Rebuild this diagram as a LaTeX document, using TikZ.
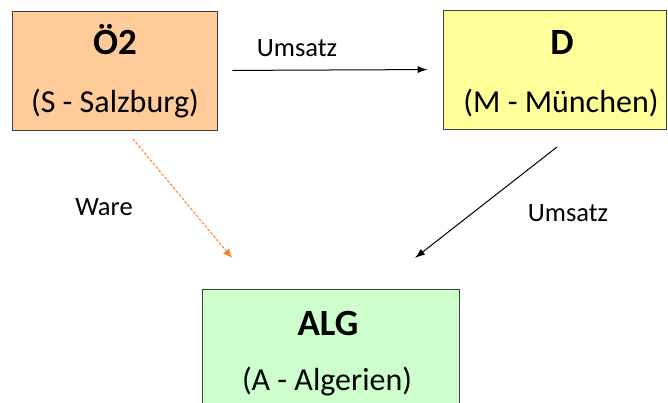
\documentclass[tikz,border=0pt]{standalone}
\usepackage{fontspec}
\setmainfont{Carlito}
\usepackage{tikz}
\usetikzlibrary{arrows.meta}
\definecolor{peach}{HTML}{FFCC99}
\definecolor{lightyellow}{HTML}{FFFF99}
\definecolor{lightgreen}{HTML}{CCFFCC}
\definecolor{rim}{HTML}{404040}
\definecolor{waredash}{HTML}{FF7F27}
\tikzset{
land/.style={rectangle, draw=rim, line width=0.9pt, inner sep=0pt},
kurz/.style={anchor=base, inner sep=0pt, font=\fontsize{37}{44}\selectfont\bfseries},
ort/.style={anchor=base, inner sep=0pt, font=\fontsize{32}{38}\selectfont},
fluss/.style={anchor=base, inner sep=0pt, font=\fontsize{26.5}{32}\selectfont}
}

\begin{document}
\begin{tikzpicture}[x=1pt, y=-1pt]
\useasboundingbox (0,0) rectangle (668,403);
\node [land, fill=peach, minimum width=205pt, minimum height=119pt] (OE) at (114.5,70.5) {};
\node [land, fill=lightyellow, minimum width=223pt, minimum height=119pt] (D) at (554.5,69.5) {};
\node [land, fill=lightgreen, minimum width=257pt, minimum height=140pt] (ALG) at (330.5,359) {};

\node [kurz] (OEkurz) at (115,55) {Ö2};
\node [ort] (OEort) at (115,113) {(S - Salzburg)};
\node [kurz] (Dkurz) at (562,55) {D};
\node [ort] (Dort) at (561,113) {(M - München)};
\node [kurz] (ALGkurz) at (328,335) {ALG};
\node [ort] (ALGort) at (327,390) {(A - Algerien)};

\coordinate (wareA) at (133,139);
\coordinate (wareB) at (232,258);
\coordinate (umsA) at (557,147);
\coordinate (umsB) at (415,258);

\draw [-{Latex[length=10pt,width=7pt]}, line width=1pt, shorten <=15pt, shorten >=15pt] (OE.east) -- (D.west);
\draw [-{Latex[length=10pt,width=7pt]}, line width=1pt] (umsA) -- (umsB);
\draw [-{Latex[length=9pt,width=8pt]}, draw=waredash, fill=waredash, line width=1pt, dash pattern=on 2.5pt off 2pt] (wareA) -- (wareB);

\node [fluss] (umsatz1) at (297,57) {Umsatz};
\node [fluss] (umsatz2) at (568,222) {Umsatz};
\node [fluss] (ware) at (104,215) {Ware};
\end{tikzpicture}
\end{document}
